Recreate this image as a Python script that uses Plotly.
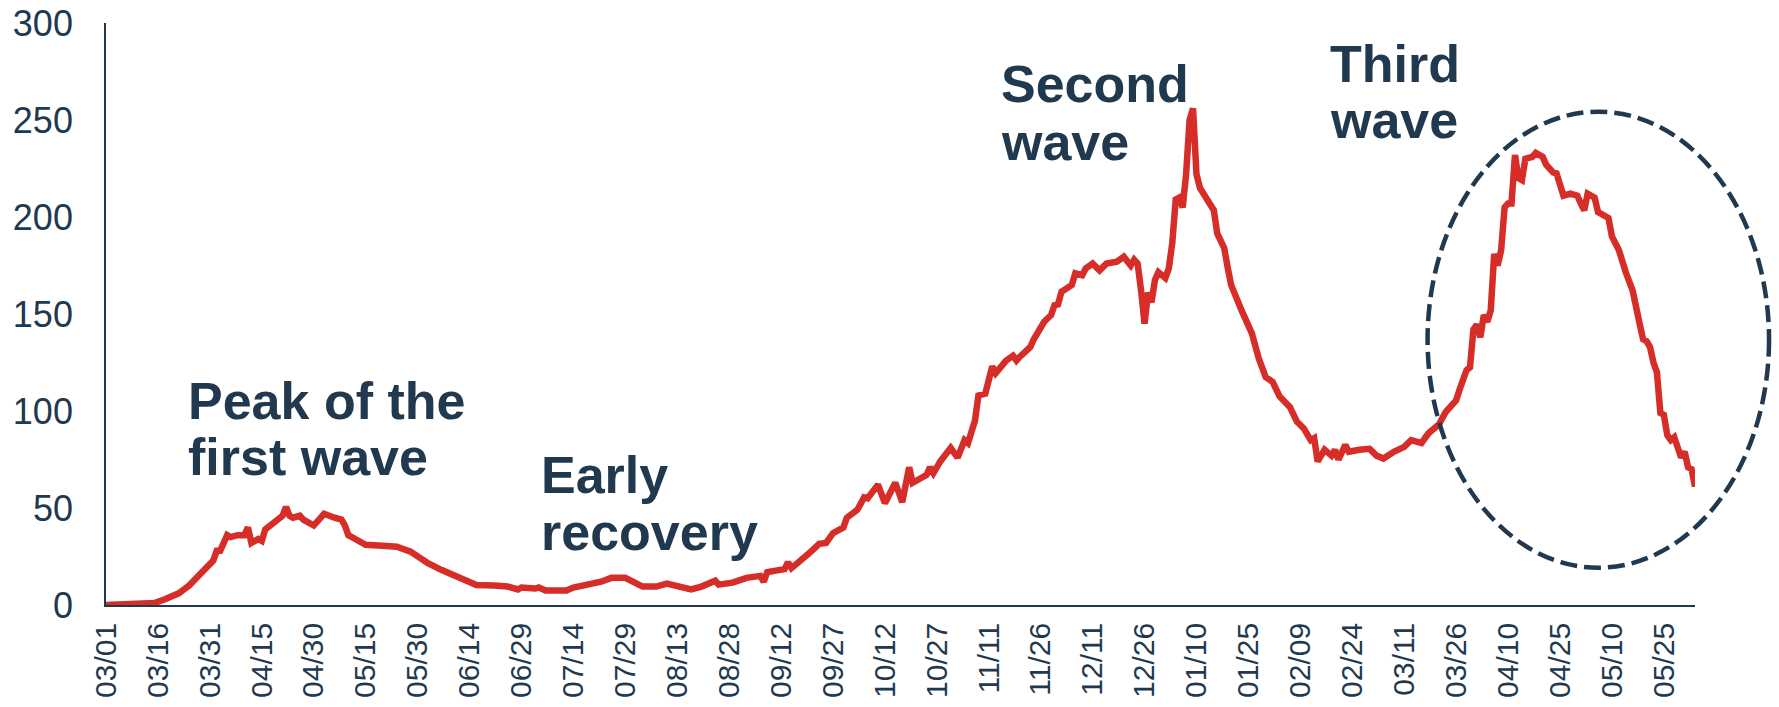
import plotly.graph_objects as go

# Daily index level (key dates), March 2020 - June 2021
dates = [
    "2020-03-01", "2020-03-11", "2020-03-15", "2020-03-18", "2020-03-22", "2020-03-25",
    "2020-03-29", "2020-04-01", "2020-04-02", "2020-04-03", "2020-04-05", "2020-04-06",
    "2020-04-08", "2020-04-10", "2020-04-11", "2020-04-12", "2020-04-14", "2020-04-15",
    "2020-04-16", "2020-04-18", "2020-04-20", "2020-04-21", "2020-04-22", "2020-04-23",
    "2020-04-24", "2020-04-26", "2020-04-27", "2020-04-30", "2020-05-01", "2020-05-03",
    "2020-05-06", "2020-05-08", "2020-05-09", "2020-05-10", "2020-05-12", "2020-05-15",
    "2020-05-20", "2020-05-24", "2020-05-28", "2020-05-30", "2020-06-02", "2020-06-06",
    "2020-06-09", "2020-06-13", "2020-06-16", "2020-06-21", "2020-06-25", "2020-06-28",
    "2020-06-29", "2020-07-03", "2020-07-04", "2020-07-06", "2020-07-12", "2020-07-14",
    "2020-07-18", "2020-07-22", "2020-07-25", "2020-07-29", "2020-08-03", "2020-08-07",
    "2020-08-10", "2020-08-14", "2020-08-17", "2020-08-20", "2020-08-24", "2020-08-25",
    "2020-08-29", "2020-09-02", "2020-09-06", "2020-09-07", "2020-09-08", "2020-09-13",
    "2020-09-14", "2020-09-15", "2020-09-18", "2020-09-20", "2020-09-23", "2020-09-25",
    "2020-09-27", "2020-09-30", "2020-10-01", "2020-10-04", "2020-10-06", "2020-10-07",
    "2020-10-10", "2020-10-12", "2020-10-15", "2020-10-17", "2020-10-19", "2020-10-20",
    "2020-10-24", "2020-10-25", "2020-10-26", "2020-10-28", "2020-10-31", "2020-11-02",
    "2020-11-04", "2020-11-05", "2020-11-07", "2020-11-08", "2020-11-10", "2020-11-12",
    "2020-11-13", "2020-11-16", "2020-11-18", "2020-11-19", "2020-11-20", "2020-11-22",
    "2020-11-23", "2020-11-24", "2020-11-27", "2020-11-29", "2020-11-30", "2020-12-01",
    "2020-12-02", "2020-12-05", "2020-12-06", "2020-12-08", "2020-12-09", "2020-12-11",
    "2020-12-13", "2020-12-15", "2020-12-18", "2020-12-20", "2020-12-22", "2020-12-23",
    "2020-12-24", "2020-12-25", "2020-12-26", "2020-12-27", "2020-12-28", "2020-12-29",
    "2020-12-30", "2021-01-01", "2021-01-02", "2021-01-03", "2021-01-04", "2021-01-05",
    "2021-01-06", "2021-01-07", "2021-01-08", "2021-01-09", "2021-01-10", "2021-01-11",
    "2021-01-12", "2021-01-14", "2021-01-15", "2021-01-16", "2021-01-18", "2021-01-19",
    "2021-01-20", "2021-01-23", "2021-01-25", "2021-01-26", "2021-01-28", "2021-01-30",
    "2021-02-01", "2021-02-03", "2021-02-06", "2021-02-08", "2021-02-10", "2021-02-12",
    "2021-02-13", "2021-02-14", "2021-02-16", "2021-02-18", "2021-02-19", "2021-02-20",
    "2021-02-22", "2021-02-23", "2021-02-26", "2021-03-01", "2021-03-03", "2021-03-05",
    "2021-03-08", "2021-03-11", "2021-03-13", "2021-03-16", "2021-03-18", "2021-03-21",
    "2021-03-23", "2021-03-26", "2021-03-27", "2021-03-29", "2021-03-30", "2021-03-31",
    "2021-04-01", "2021-04-02", "2021-04-03", "2021-04-04", "2021-04-05", "2021-04-06",
    "2021-04-07", "2021-04-08", "2021-04-09", "2021-04-10", "2021-04-11", "2021-04-12",
    "2021-04-13", "2021-04-14", "2021-04-15", "2021-04-17", "2021-04-18", "2021-04-20",
    "2021-04-21", "2021-04-23", "2021-04-24", "2021-04-25", "2021-04-26", "2021-04-28",
    "2021-04-30", "2021-05-01", "2021-05-02", "2021-05-03", "2021-05-05", "2021-05-06",
    "2021-05-09", "2021-05-10", "2021-05-12", "2021-05-14", "2021-05-16", "2021-05-18",
    "2021-05-19", "2021-05-20", "2021-05-21", "2021-05-22", "2021-05-23", "2021-05-24",
    "2021-05-25", "2021-05-26", "2021-05-27", "2021-05-28", "2021-05-30", "2021-05-31",
    "2021-06-01", "2021-06-02", "2021-06-03",
]

values = [
    0, 0.3, 1, 3, 6, 10,
    18, 23, 28, 28, 36, 35,
    36, 36, 40, 32, 34, 33,
    39, 42, 44, 46, 50.5, 46,
    45, 46, 44, 41, 43, 47,
    45, 44, 41, 36, 34, 31,
    30.5, 30, 27.5, 25, 21.5, 18,
    15.5, 13, 10.3, 10, 9.5, 8,
    9, 8.5, 9, 7.5, 7.5, 9,
    10.5, 12, 14, 14, 9.5, 9.5,
    11, 9.5, 8, 9.5, 12.5, 10.5,
    11.5, 14, 15, 12, 17, 18.5,
    22, 19, 23, 26.5, 31.5, 32,
    37, 40, 45, 49, 55.5, 55,
    62, 52.5, 63, 53, 71, 63,
    67, 71, 68, 74, 81, 76,
    85, 83.5, 95, 108, 109, 123,
    119.5, 126, 128.5, 126, 128, 131,
    133, 137, 146, 149.5, 154.5, 155,
    161.5, 165, 171, 170, 173.5, 176,
    172.5, 176, 177, 179.5, 175, 178,
    176, 162, 145, 161, 156, 167.5,
    171.5, 168.5, 173.5, 186.5, 209, 210,
    205, 222, 250, 256, 222, 215,
    212, 207, 203.5, 191.5, 184, 174,
    165, 152, 145, 140, 127, 117.5,
    115, 107.5, 102, 94.5, 91, 85,
    86, 74, 80, 77, 80, 75,
    82.5, 79, 80, 80.5, 77, 75.5,
    79, 81.5, 85, 83.5, 88.5, 93,
    99.5, 105.5, 111, 121, 122.5, 142,
    144.5, 138, 149.5, 146, 152, 181,
    175, 183, 205, 207, 207, 232,
    220, 219, 230, 231, 233, 231,
    227, 223, 222.5, 216.5, 211, 212,
    211, 207, 203.5, 212, 210, 202.5,
    199.5, 190, 183, 171.5, 162, 145,
    137, 136, 133, 125, 120, 99,
    98, 87.5, 85, 86.5, 76, 79,
    71, 70, 61,
]

tick_dates = [
    "2020-03-01", "2020-03-16", "2020-03-31", "2020-04-15", "2020-04-30", "2020-05-15",
    "2020-05-30", "2020-06-14", "2020-06-29", "2020-07-14", "2020-07-29", "2020-08-13",
    "2020-08-28", "2020-09-12", "2020-09-27", "2020-10-12", "2020-10-27", "2020-11-11",
    "2020-11-26", "2020-12-11", "2020-12-26", "2021-01-10", "2021-01-25", "2021-02-09",
    "2021-02-24", "2021-03-11", "2021-03-26", "2021-04-10", "2021-04-25", "2021-05-10",
    "2021-05-25",
]
tick_labels = [d[5:7] + "/" + d[8:10] for d in tick_dates]

y_ticks = [0, 50, 100, 150, 200, 250, 300]

# Callout text: (lines, anchor date, value at the centre of each line)
callouts = [
    (["Peak of the", "first wave"], "2020-03-24", [105, 76.3]),
    (["Early", "recovery"], "2020-07-04", [67, 37.6]),
    (["Second", "wave"], "2020-11-14", [268.6, 238.7]),
    (["Third", "wave"], "2021-02-17", [278.9, 250]),
]

NAVY = "#21394F"
RED = "#D62D28"
FONT = "Liberation Sans, Arial, Helvetica, sans-serif"

fig = go.Figure()
fig.add_trace(go.Scatter(
    x=dates, y=values, mode="lines",
    line=dict(color=RED, width=6.5, shape="linear"),
    cliponaxis=False, hoverinfo="skip",
))

for lines, xdate, ys in callouts:
    for text, yv in zip(lines, ys):
        fig.add_annotation(
            x=xdate, y=yv, xref="x", yref="y", text=text, showarrow=False,
            xanchor="left", yanchor="middle",
            font=dict(family=FONT, size=52, color=NAVY, weight="bold"),
        )

# Dashed ring around the third wave
fig.add_shape(
    type="circle", xref="paper", yref="paper",
    x0=0.8317, x1=1.0466, y0=0.0641, y1=0.8476,
    line=dict(color=NAVY, width=4.5, dash="17px,7px"),
    layer="above",
)

fig.update_layout(
    width=1779, height=707,
    margin=dict(l=106, r=84, t=23, b=102, pad=0, autoexpand=False),
    paper_bgcolor="white", plot_bgcolor="white",
    showlegend=False,
    font=dict(family=FONT, color=NAVY),
    xaxis=dict(
        type="date", range=["2020-03-01", "2021-06-03"],
        tickmode="array", tickvals=tick_dates, ticktext=tick_labels,
        tickangle=-90, tickfont=dict(size=30, color=NAVY, family=FONT),
        showline=True, linecolor=NAVY, linewidth=1.75,
        showgrid=False, zeroline=False, ticks="",
        ticklabelstandoff=4, layer="below traces", automargin=False,
    ),
    yaxis=dict(
        range=[0, 300], tickmode="array", tickvals=y_ticks,
        tickfont=dict(size=36, color=NAVY, family=FONT),
        showline=True, linecolor=NAVY, linewidth=1.75,
        showgrid=False, zeroline=False, ticks="",
        ticklabelstandoff=24, layer="below traces", automargin=False,
    ),
)

fig.write_html("out.html")
